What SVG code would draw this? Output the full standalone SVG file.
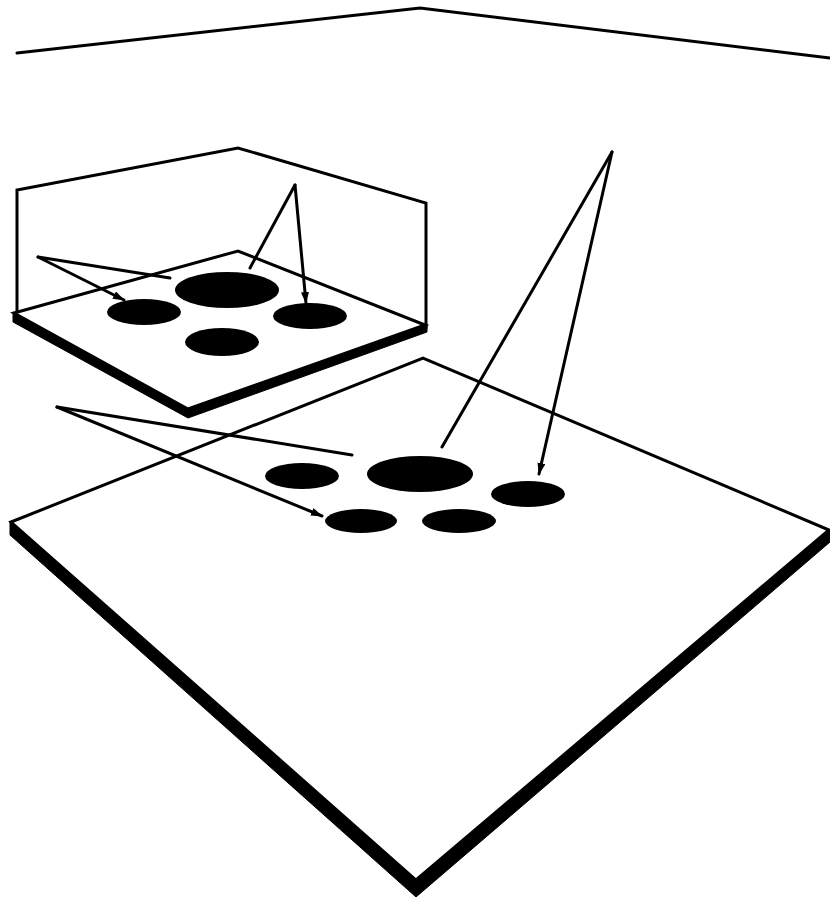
<svg xmlns="http://www.w3.org/2000/svg" width="830" height="902" viewBox="0 0 830 902">
<defs>
<marker id="ah" viewBox="0 0 12 8" refX="11" refY="4" markerWidth="12" markerHeight="8" markerUnits="userSpaceOnUse" orient="auto">
<path d="M0,0 L12,4 L0,8 Z" fill="#000"/>
</marker>
</defs>
<style>
.thin{fill:none;stroke:#000;stroke-width:3;stroke-linejoin:miter;stroke-linecap:round}
.thick{fill:#000;stroke:#000;stroke-width:1;stroke-linejoin:miter}
.face{fill:#fff;stroke:#000;stroke-width:3;stroke-linejoin:miter}
.well{fill:#000}
.ar{fill:none;stroke:#000;stroke-width:3;stroke-linecap:round}
</style>
<rect width="830" height="902" fill="#fff"/>
<!-- room corner -->
<polyline class="thin" points="17,53 420,8 830,58"/>

<!-- large plate -->
<g id="large-plate">
<polygon class="thick" points="10,522 416,880 830,530 830,542 416,897 10,535"/>
<polygon class="face" points="11,522 423,358 829,530 416,880"/>
<ellipse class="well" cx="420" cy="474" rx="53" ry="18"/>
<ellipse class="well" cx="528" cy="494" rx="37" ry="13"/>
<ellipse class="well" cx="302" cy="476" rx="37" ry="13"/>
<ellipse class="well" cx="361" cy="521" rx="36" ry="12"/>
<ellipse class="well" cx="459" cy="521" rx="37" ry="12"/>
</g>

<!-- small box -->
<g id="small-box">
<polyline class="thin" points="17,313 17,190 238,148 426,203 426,328"/>
<polygon class="thick" points="13,312 188,408 427,324 427,332 188,418 13,322"/>
<polygon class="face" points="14,313 238,251 425,325 188,409"/>
<ellipse class="well" cx="227" cy="290" rx="52" ry="18"/>
<ellipse class="well" cx="144" cy="312" rx="37" ry="13"/>
<ellipse class="well" cx="310" cy="316" rx="37" ry="13"/>
<ellipse class="well" cx="222" cy="342" rx="37" ry="14"/>
</g>

<!-- connectors -->
<g id="connectors">
<line class="ar" x1="295" y1="185" x2="250" y2="268"/>
<line class="ar" x1="295" y1="185" x2="306" y2="303" marker-end="url(#ah)"/>
<line class="ar" x1="38" y1="257" x2="170" y2="278"/>
<line class="ar" x1="38" y1="257" x2="124" y2="300" marker-end="url(#ah)"/>
<line class="ar" x1="612" y1="152" x2="442" y2="447"/>
<line class="ar" x1="612" y1="152" x2="539" y2="474" marker-end="url(#ah)"/>
<line class="ar" x1="57" y1="407" x2="352" y2="455"/>
<line class="ar" x1="57" y1="407" x2="322" y2="516" marker-end="url(#ah)"/>
</g>
</svg>
